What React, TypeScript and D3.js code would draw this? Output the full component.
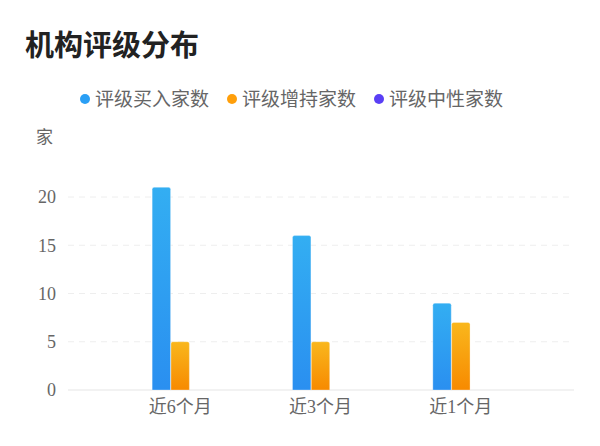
import React, { useEffect, useRef } from 'react';
import * as d3 from "d3";

const categories = ["近6个月", "近3个月", "近1个月"];
const seriesNames = ["评级买入家数", "评级增持家数", "评级中性家数"];
const buyCounts = [21, 16, 9];
const addCounts = [5, 5, 7];
const neutralCounts = [0, 0, 0];
const yTicks = [0, 5, 10, 15, 20];

const dotColors = ["#2a9ff5", "#ff9f0a", "#5a3ff5"];
const gradients = [["#33aef2", "#2a8ff0"], ["#f9b71d", "#f78a00"], ["#7a5cf7", "#5a3ff5"]];

export default function App() {
    const svgRef = useRef(null);

    useEffect(() => {
        const svg = d3.select(svgRef.current);
        svg.selectAll("*").remove();

        const left = 68, right = 574;
        const x = d3.scaleBand().domain(categories).range([110, 531]);
        const y = d3.scaleLinear().domain([0, 20]).range([390, 197]);
        const inner = d3.scaleBand().domain(seriesNames).range([0, 56]).paddingInner(0.02);

        const defs = svg.append("defs");
        gradients.forEach((g, i) => {
            const lg = defs.append("linearGradient")
                .attr("id", `grad${i}`)
                .attr("x1", 0).attr("y1", 0).attr("x2", 0).attr("y2", 1);
            lg.append("stop").attr("offset", "0%").attr("stop-color", g[0]);
            lg.append("stop").attr("offset", "100%").attr("stop-color", g[1]);
        });

        // title
        svg.append("text")
            .attr("x", 25).attr("y", 56)
            .attr("font-size", 29).attr("font-weight", "bold")
            .attr("font-family", "'Noto Sans CJK SC', sans-serif")
            .attr("fill", "#222")
            .text("机构评级分布");

        // legend
        const legendX = [85, 232, 379];
        seriesNames.forEach((name, i) => {
            svg.append("circle").attr("cx", legendX[i]).attr("cy", 99).attr("r", 5).attr("fill", dotColors[i]);
            svg.append("text")
                .attr("x", legendX[i] + 10).attr("y", 106)
                .attr("font-size", 19)
                .attr("font-family", "'Noto Sans CJK SC', sans-serif")
                .attr("fill", "#666")
                .text(name);
        });

        // unit
        svg.append("text")
            .attr("x", 36).attr("y", 143)
            .attr("font-size", 17)
            .attr("font-family", "'Noto Sans CJK SC', sans-serif")
            .attr("fill", "#666")
            .text("家");

        // grid
        svg.append("g").selectAll("line")
            .data(yTicks.filter((t) => t > 0))
            .enter().append("line")
            .attr("x1", left).attr("x2", right)
            .attr("y1", (d) => y(d)).attr("y2", (d) => y(d))
            .attr("stroke", "#eeeeee").attr("stroke-dasharray", "6,5");

        svg.append("line")
            .attr("x1", left).attr("x2", right)
            .attr("y1", y(0)).attr("y2", y(0))
            .attr("stroke", "#eeeeee").attr("stroke-width", 1.5);

        const yAxis = svg.append("g")
            .attr("transform", `translate(56,0)`)
            .call(d3.axisLeft(y).tickValues(yTicks).tickSize(0).tickPadding(0));
        yAxis.select("path").remove();
        yAxis.selectAll("text")
            .attr("font-size", 18)
            .attr("font-family", "'Liberation Serif', serif")
            .attr("fill", "#666");

        const xAxis = svg.append("g")
            .attr("transform", `translate(0,${y(0)})`)
            .call(d3.axisBottom(x).tickSize(0).tickPadding(10));
        xAxis.select("path").remove();
        xAxis.selectAll("text")
            .attr("font-size", 18)
            .attr("font-family", "'Liberation Serif', 'Noto Sans CJK SC', serif")
            .attr("fill", "#666");

        // bars
        const series = [buyCounts, addCounts, neutralCounts];
        series.forEach((vals, si) => {
            svg.append("g").selectAll("path")
                .data(vals.map((v, ci) => ({ v, c: categories[ci] })).filter((d) => d.v > 0))
                .enter().append("path")
                .attr("d", (d) => {
                    const bx = (x(d.c) || 0) + x.bandwidth() / 2 - 28 + (inner(seriesNames[si]) || 0);
                    const bw = inner.bandwidth();
                    const top = y(d.v), bottom = y(0), r = 2;
                    return `M${bx},${bottom}V${top + r}Q${bx},${top} ${bx + r},${top}H${bx + bw - r}Q${bx + bw},${top} ${bx + bw},${top + r}V${bottom}Z`;
                })
                .attr("fill", `url(#grad${si})`)
                .attr("stroke", "rgba(255,255,255,0.5)")
                .attr("stroke-width", 0.6);
        });
    }, []);

    return (
        <svg ref={svgRef} width={600} height={446} style={{ position: "absolute", left: 0, top: 0 }} />
    );
}
